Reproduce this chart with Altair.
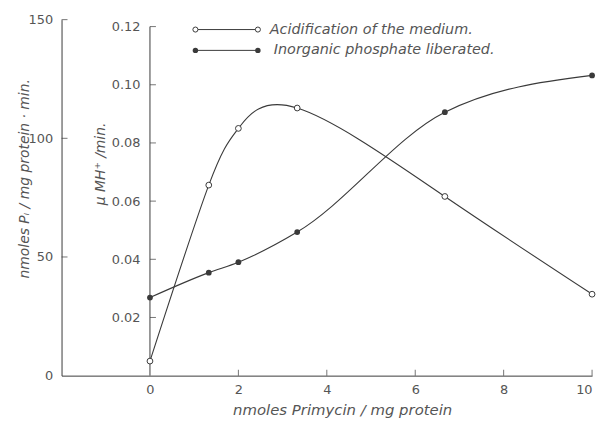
import altair as alt
import pandas as pd

# ---- data ----
primycin = [0, 1.33, 2, 3.33, 6.67, 10]
acidification = [0.005, 0.0655, 0.085, 0.092, 0.0616, 0.028]
phosphate = [32.9, 43.4, 47.8, 60.5, 111.0, 126.5]

x_ticks = [0, 2, 4, 6, 8, 10]
pi_ticks = [0, 50, 100, 150]
acid_ticks = [0.02, 0.04, 0.06, 0.08, 0.10, 0.12]
legend_labels = ["Acidification of the medium.", "Inorganic phosphate liberated."]

INK = "#3a3a3a"
TXT = "#555555"
FONT = "DejaVu Sans"

df = pd.DataFrame({"x": primycin, "acid": acidification, "pi": phosphate})
xt = pd.DataFrame({"x": [t for t in x_ticks if t != 0]})
pt = pd.DataFrame({"v": [t for t in pi_ticks if t != 0]})
at = pd.DataFrame({"v": acid_ticks, "x": [0] * len(acid_ticks)})
inner_line = pd.DataFrame({"x": [0], "y0": [0], "y1": [max(acid_ticks)]})

x_scale = alt.Scale(domain=[-2, 10], nice=False, zero=False)
pi_scale = alt.Scale(domain=[0, 150], nice=False)
acid_scale = alt.Scale(domain=[0, 0.12 * 359 / 352], nice=False)

x_axis = alt.Axis(values=x_ticks, format="d", ticks=False, tickSize=0, grid=False,
                  labelPadding=8, title="nmoles Primycin  /  mg protein",
                  titlePadding=6, titleFontStyle="italic", titleFontWeight="normal",
                  titleFontSize=15, titleX=283)
X = alt.X("x:Q", scale=x_scale, axis=x_axis)

pi_line = alt.Chart(df).mark_line(interpolate="monotone", color=INK, strokeWidth=1.1).encode(
    x=X,
    y=alt.Y("pi:Q", scale=pi_scale,
            axis=alt.Axis(orient="left", values=pi_ticks, format="d", ticks=False, tickSize=0,
                          grid=False, labelPadding=9,
                          title="nmoles  Pᵢ  /  mg protein · min.",
                          titleAngle=270, titleBaseline="middle", titleAlign="center",
                          titleX=-37, titleY=160,
                          titleFontStyle="italic", titleFontWeight="normal",
                          titleFontSize=14)),
)
pi_pts = alt.Chart(df).mark_circle(size=34, color=INK, opacity=1).encode(
    x=X, y=alt.Y("pi:Q", scale=pi_scale, axis=None))
pi_tick = alt.Chart(pt).mark_tick(orient="horizontal", size=6, thickness=1, color=INK, xOffset=3).encode(
    x=alt.value(0), y=alt.Y("v:Q", scale=pi_scale, axis=None))

acid_line = alt.Chart(df).mark_line(interpolate="natural", color=INK, strokeWidth=1.1).encode(
    x=X,
    y=alt.Y("acid:Q", scale=acid_scale,
            axis=alt.Axis(orient="left", offset=-90, values=acid_ticks, format=".2f",
                          domain=False, ticks=False, tickSize=0, grid=False, labelPadding=11,
                          title="μ MH⁺ /min.",
                          titleAngle=270, titleBaseline="middle", titleAlign="center",
                          titleX=-51, titleY=145,
                          titleFontStyle="italic", titleFontWeight="normal",
                          titleFontSize=14)),
)
acid_pts = alt.Chart(df).mark_point(size=34, filled=False, fill="white", fillOpacity=1,
                                    stroke=INK, strokeWidth=1, opacity=1).encode(
    x=X, y=alt.Y("acid:Q", scale=acid_scale, axis=None))
acid_axis_line = alt.Chart(inner_line).mark_rule(color=INK, strokeWidth=1).encode(
    x=X, y=alt.Y("y0:Q", scale=acid_scale, axis=None), y2="y1:Q")
acid_tick = alt.Chart(at).mark_tick(orient="horizontal", size=6, thickness=1, color=INK, xOffset=3).encode(
    x=X, y=alt.Y("v:Q", scale=acid_scale, axis=None))
x_tick = alt.Chart(xt).mark_tick(orient="vertical", size=6, thickness=1, color=INK).encode(
    x=X, y=alt.value(356))

# legend
lg1 = pd.DataFrame({"label": [legend_labels[0]]})
lg2 = pd.DataFrame({"label": [legend_labels[1]]})
leg = []
for d, yy, filled, tx in [(lg1, 10, False, 210), (lg2, 31, True, 214)]:
    leg.append(alt.Chart(d).mark_rule(color=INK, strokeWidth=1).encode(
        x=alt.value(135), x2=alt.value(198), y=alt.value(yy)))
    for xx in (135, 198):
        if filled:
            leg.append(alt.Chart(d).mark_circle(size=30, color=INK, opacity=1).encode(
                x=alt.value(xx), y=alt.value(yy)))
        else:
            leg.append(alt.Chart(d).mark_point(size=26, filled=False, fill="white", fillOpacity=1,
                                               stroke=INK, strokeWidth=1).encode(
                x=alt.value(xx), y=alt.value(yy)))
    leg.append(alt.Chart(d).mark_text(align="left", baseline="middle", fontSize=14.5,
                                      fontStyle="italic", font=FONT, color=TXT).encode(
        x=alt.value(tx), y=alt.value(yy), text="label:N"))

chart = alt.layer(
    pi_line, acid_line, acid_axis_line, pi_tick, acid_tick, x_tick, pi_pts, acid_pts, *leg
).resolve_scale(y="independent").resolve_axis(y="independent").properties(
    width=535, height=359,
    autosize=alt.AutoSizeParams(type="none"),
    padding={"left": 54, "top": 10, "right": 8, "bottom": 43},
).configure_view(stroke=None).configure_axis(
    domainColor=INK, labelColor=TXT, titleColor=TXT, labelFont=FONT, titleFont=FONT,
    labelFontSize=13, domainWidth=1,
)

chart.save("out.html", embed_options={"renderer": "svg", "actions": False})
